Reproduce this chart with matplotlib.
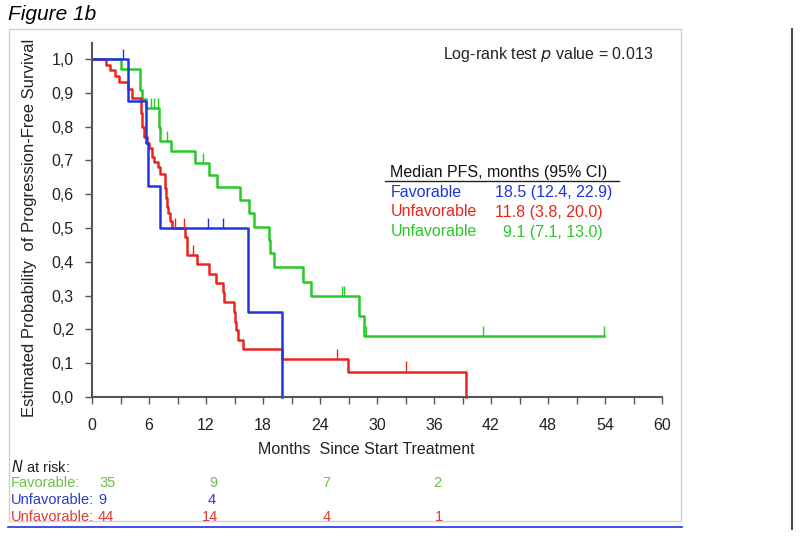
import numpy as np
import matplotlib
matplotlib.use('Agg')
import matplotlib.pyplot as plt
from matplotlib.lines import Line2D
from matplotlib.patches import Rectangle

plt.rcParams['font.family'] = ['Liberation Sans', 'DejaVu Sans']

# Kaplan-Meier steps (time in months, survival after step)
blue_t = [0, 3.75, 5.65, 5.9, 7.15, 16.4, 20.0]
blue_s = [1.0, 0.875, 0.75, 0.625, 0.5, 0.25, 0.0]
blue_cens_t = [3.3, 12.2, 13.8]
blue_cens_s = [1.0, 0.5, 0.5]

red_t = [0, 1.5, 1.9, 2.4, 2.8, 3.8, 4.2, 5.2, 5.3, 5.5, 5.75, 6.0, 6.3, 6.5,
         6.9, 7.2, 7.7, 7.8, 7.9, 8.0, 8.2, 8.4, 9.8, 10.0, 11.0, 12.35, 13.05,
         13.8, 13.9, 14.95, 15.1, 15.2, 15.4, 15.9, 20.0, 26.9, 39.4]
red_s = [1.0, 0.982, 0.966, 0.95, 0.932, 0.91, 0.884, 0.84, 0.80, 0.77, 0.75,
         0.735, 0.71, 0.696, 0.68, 0.66, 0.617, 0.59, 0.563, 0.543, 0.52, 0.50,
         0.474, 0.42, 0.393, 0.364, 0.338, 0.31, 0.282, 0.252, 0.223, 0.198,
         0.169, 0.141, 0.112, 0.075, 0.0]
red_cens_t = [8.7, 9.7, 10.6, 25.8, 33.0]
red_cens_s = [0.5, 0.5, 0.42, 0.112, 0.075]

green_t = [0, 3.0, 5.1, 5.3, 5.7, 7.0, 7.2, 8.3, 10.85, 12.35, 13.2, 15.6,
           16.5, 17.0, 18.6, 18.75, 19.2, 22.2, 23.0, 28.1, 28.6, 53.9]
green_s = [1.0, 0.971, 0.908, 0.88, 0.854, 0.80, 0.757, 0.728, 0.691, 0.657,
           0.622, 0.583, 0.543, 0.504, 0.465, 0.425, 0.385, 0.341, 0.299, 0.24,
           0.18, 0.18]
green_cens_t = [6.2, 6.55, 6.9, 7.85, 11.7, 26.35, 26.55, 28.8, 41.2, 53.9]
green_cens_s = [0.854, 0.854, 0.854, 0.757, 0.691, 0.299, 0.299, 0.18, 0.18, 0.18]

legend_groups = ['Favorable', 'Unfavorable', 'Unfavorable']
legend_vals = ['18.5 (12.4, 22.9)', '11.8 (3.8, 20.0)', '9.1 (7.1, 13.0)']

risk_labels = ['Favorable:', 'Unfavorable:', 'Unfavorable:']
risk_green = ['35', '9', '7', '2']
risk_blue = ['9', '4']
risk_red = ['44', '14', '4', '1']

BLUE = '#1f35e0'
RED = '#ec2420'
GREEN = '#27c927'

def fy(px):
    return 1 - px / 537.0

def fx(px):
    return px / 800.0

fig = plt.figure(figsize=(8, 5.37), dpi=100)

# outer frame + decorations
fig.add_artist(Rectangle((fx(9), fy(521)), fx(672), 492 / 537.0, transform=fig.transFigure,
                         fill=False, edgecolor='#cfcfcf', lw=1))
fig.add_artist(Line2D([fx(8), fx(682)], [fy(527), fy(527)], color='#2030e8', lw=1.2))
fig.add_artist(Line2D([fx(792), fx(792)], [fy(29), fy(529)], color='#333333', lw=1.3))

ax = fig.add_axes([fx(92), fy(397), 570 / 800.0, 354 / 537.0])
ax.set_xlim(0, 60)
ax.set_ylim(0, 1.047)

for t, s, c in [(green_t, green_s, GREEN), (red_t, red_s, RED), (blue_t, blue_s, BLUE)]:
    ax.step(t, s, where='post', color=c, lw=1.8, clip_on=False)
for t, s, c in [(green_cens_t, green_cens_s, GREEN), (red_cens_t, red_cens_s, RED),
                (blue_cens_t, blue_cens_s, BLUE)]:
    ax.vlines(t, np.array(s), np.array(s) + 0.03, color=c, lw=1)

for sp in ['top', 'right']:
    ax.spines[sp].set_visible(False)
for sp in ['left', 'bottom']:
    ax.spines[sp].set_color('#555555')
    ax.spines[sp].set_linewidth(1.5)

ax.set_xticks(np.arange(0, 61, 6))
ax.set_xticks(np.arange(3, 60, 6), minor=True)
yt = np.round(np.arange(0, 1.01, 0.1), 1)
ax.set_yticks(yt)
ax.set_yticklabels([f'{v:.1f}'.replace('.', ',') for v in yt])
ax.tick_params(axis='both', which='both', direction='out', length=5, width=1,
               color='#555555', labelsize=11.5, labelcolor='#222222')
ax.tick_params(axis='x', pad=10)
ax.tick_params(axis='y', pad=8)

# texts
fig.text(fx(8), fy(15), 'Figure 1b', fontsize=15, style='italic', va='center', ha='left')
fig.text(fx(30), fy(228), 'Estimated Probability  of Progression-Free Survival', rotation=90,
         fontsize=12, ha='center', va='center', color='#222222')
fig.text(fx(366), fy(449), 'Months  Since Start Treatment', fontsize=11.5, ha='center',
         va='center', color='#222222')
fig.text(fx(443), fy(55), r'Log-rank test $\it{p}$ value = 0.013', fontsize=11.5,
         ha='left', va='center', color='#222222')

fig.text(fx(390), fy(172), 'Median PFS, months (95% CI)', fontsize=11.5, ha='left',
         va='center', color='#111111')
fig.add_artist(Line2D([fx(385), fx(619)], [fy(181), fy(181)], color='#222222', lw=1))
row_y = [192, 212, 232]
for g, v, c, yy in zip(legend_groups, legend_vals, [BLUE, RED, GREEN], row_y):
    fig.text(fx(391), fy(yy), g, fontsize=11.5, ha='left', va='center', color=c)
    xv = 495 if not v.startswith('9') else 503
    fig.text(fx(xv), fy(yy), v, fontsize=11.5, ha='left', va='center', color=c)

# at-risk table
fig.text(fx(11), fy(467), r'$\it{N}$ at risk:', fontsize=10.5, ha='left', va='center', color='#222222')
RG, RB, RR = '#6cbf4a', '#2a3ccc', '#e03a3a'
risk_y = [483, 500, 517]
for lab, c, yy in zip(risk_labels, [RG, RB, RR], risk_y):
    fig.text(fx(11), fy(yy), lab, fontsize=10.5, ha='left', va='center', color=c)
for vals, xs, c, yy in [(risk_green, [108, 213, 326, 437], RG, 483),
                        (risk_blue, [102, 212], RB, 500),
                        (risk_red, [106, 210, 327, 439], RR, 517)]:
    for v, xx in zip(vals, xs):
        fig.text(fx(xx), fy(yy), v, fontsize=10.5, ha='center', va='center', color=c)

fig.savefig('out.png', dpi=100)
